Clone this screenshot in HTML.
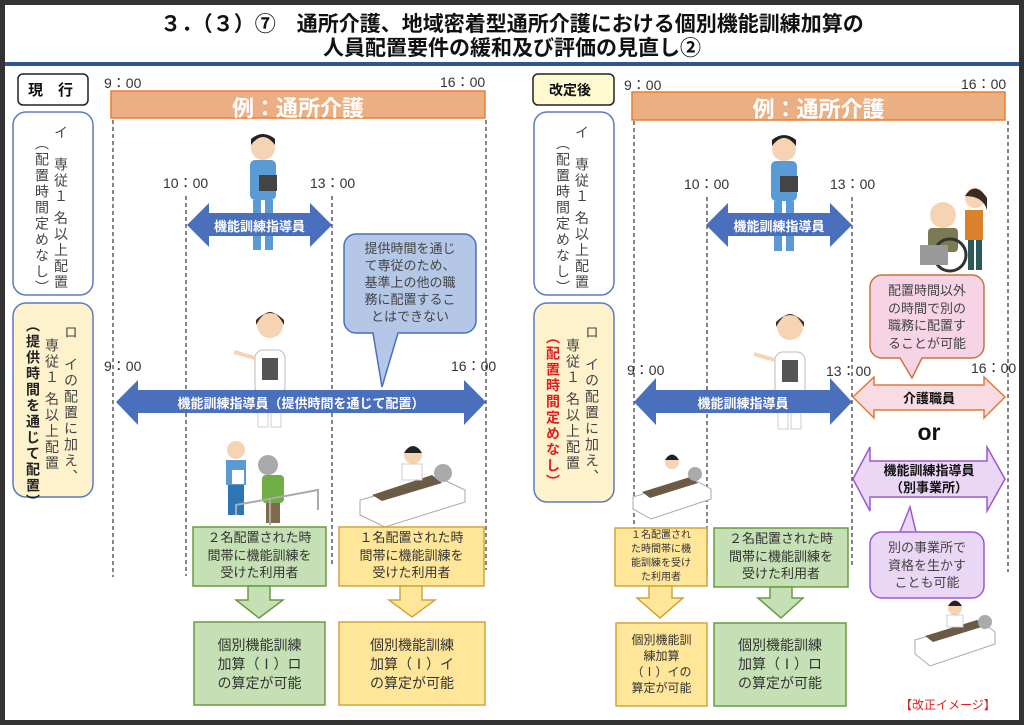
<!DOCTYPE html>
<html><head><meta charset="utf-8">
<style>
*{margin:0;padding:0;box-sizing:border-box}
body{width:1024px;height:725px;overflow:hidden;background:#fff;font-family:"Liberation Sans","Noto Sans CJK JP",sans-serif;position:relative;color:#333}
.a{position:absolute;white-space:nowrap}
.v{position:absolute;writing-mode:vertical-rl;font-size:14px;letter-spacing:2px;line-height:1;color:#444}
.t{font-size:14px;color:#333}
.c{text-align:center}
</style></head><body>
<svg width="1024" height="725" style="position:absolute;left:0;top:0">
<rect x="2.5" y="2.5" width="1019" height="720" fill="none" stroke="#333" stroke-width="5"/>
<rect x="5" y="62" width="1014" height="4" fill="#2f5597"/>
<rect x="18" y="74" width="70" height="31" rx="5" fill="#fff" stroke="#222" stroke-width="1.5"/>
<rect x="533" y="74" width="81" height="31" rx="5" fill="#fff9d0" stroke="#222" stroke-width="1.5"/>
<rect x="111" y="91" width="374" height="27" fill="#eab083" stroke="#ed7d31" stroke-width="1.5"/>
<rect x="632" y="92" width="373" height="28" fill="#eab083" stroke="#ed7d31" stroke-width="1.5"/>
<rect x="13" y="112" width="80" height="183" rx="13" fill="#fff" stroke="#5b7bc0" stroke-width="1.5"/>
<rect x="13" y="303" width="80" height="194" rx="13" fill="#fdf2cc" stroke="#5b7bc0" stroke-width="1.5"/>
<rect x="534" y="112" width="80" height="183" rx="13" fill="#fff" stroke="#5b7bc0" stroke-width="1.5"/>
<rect x="534" y="303" width="80" height="199" rx="13" fill="#fdf2cc" stroke="#5b7bc0" stroke-width="1.5"/>
<g stroke="#333" stroke-width="1.2" stroke-dasharray="4,3">
<line x1="113" y1="120" x2="113" y2="577"/><line x1="186" y1="196" x2="186" y2="576"/>
<line x1="332" y1="196" x2="332" y2="566"/><line x1="486" y1="120" x2="486" y2="570"/>
<line x1="634" y1="121" x2="634" y2="576"/><line x1="707" y1="197" x2="707" y2="578"/>
<line x1="852" y1="197" x2="852" y2="567"/><line x1="1008" y1="121" x2="1008" y2="572"/>
</g>
<g>
<circle cx="263" cy="148" r="12" fill="#f6d3b3"/><path d="M251 145 q12-16 24 0 v-6 q-12-10-24 0z" fill="#222"/>
<rect x="250" y="160" width="26" height="40" rx="5" fill="#5b9bd5"/><rect x="253" y="200" width="8" height="50" fill="#5b9bd5"/><rect x="265" y="200" width="8" height="50" fill="#5b9bd5"/>
<rect x="259" y="175" width="18" height="16" fill="#444"/>
<circle cx="784" cy="149" r="12" fill="#f6d3b3"/><path d="M772 146 q12-16 24 0 v-6 q-12-10-24 0z" fill="#222"/>
<rect x="771" y="161" width="26" height="40" rx="5" fill="#5b9bd5"/><rect x="774" y="201" width="8" height="50" fill="#5b9bd5"/><rect x="786" y="201" width="8" height="50" fill="#5b9bd5"/>
<rect x="780" y="176" width="18" height="16" fill="#444"/>
<circle cx="270" cy="325" r="13" fill="#f6d3b3"/><path d="M256 325 q14-26 28 0 v-5 q-14-14-28 0z" fill="#3a2a22"/>
<rect x="255" y="350" width="30" height="45" rx="8" fill="#fff" stroke="#bbb"/><rect x="262" y="358" width="16" height="22" fill="#555"/>
<rect x="258" y="395" width="10" height="32" fill="#fff" stroke="#ccc"/><rect x="271" y="395" width="10" height="32" fill="#fff" stroke="#ccc"/>
<line x1="255" y1="358" x2="234" y2="352" stroke="#f6d3b3" stroke-width="4"/>
<circle cx="790" cy="327" r="13" fill="#f6d3b3"/><path d="M776 327 q14-26 28 0 v-5 q-14-14-28 0z" fill="#3a2a22"/>
<rect x="775" y="352" width="30" height="45" rx="8" fill="#fff" stroke="#bbb"/><rect x="782" y="360" width="16" height="22" fill="#555"/>
<rect x="778" y="397" width="10" height="32" fill="#fff" stroke="#ccc"/><rect x="791" y="397" width="10" height="32" fill="#fff" stroke="#ccc"/>
<line x1="775" y1="360" x2="754" y2="354" stroke="#f6d3b3" stroke-width="4"/>
<circle cx="236" cy="450" r="9" fill="#f6d3b3"/><rect x="226" y="460" width="20" height="25" fill="#5b9bd5"/><rect x="228" y="485" width="16" height="30" fill="#2e75b6"/>
<rect x="232" y="470" width="12" height="14" fill="#fff"/>
<circle cx="268" cy="465" r="10" fill="#aaa"/><rect x="262" y="475" width="22" height="28" rx="4" fill="#70ad47"/><rect x="266" y="503" width="14" height="20" fill="#7f6a4a"/>
<path d="M236 515 L236 505 L318 490 L318 510 M270 525 L270 500" stroke="#aaa" stroke-width="2" fill="none"/>
<path d="M360 500 l80-22 l25 12 l0 12 l-80 25 l-25-12z" fill="#fff" stroke="#aaa"/>
<path d="M372 495 l60-20 l10 8 l-60 18z" fill="#6b5a45"/><circle cx="443" cy="473" r="9" fill="#aaa"/>
<circle cx="413" cy="455" r="9" fill="#f6d3b3"/><path d="M404 453 q9-14 18 0z" fill="#222"/><rect x="402" y="464" width="20" height="16" fill="#fff" stroke="#ccc"/>
<path d="M633 497 l60-18 l18 10 l0 10 l-60 20 l-18-10z" fill="#fff" stroke="#aaa"/>
<path d="M642 492 l48-15 l8 6 l-48 15z" fill="#6b5a45"/><circle cx="695" cy="474" r="7" fill="#aaa"/>
<circle cx="672" cy="462" r="7" fill="#f6d3b3"/><path d="M665 460 q7-11 14 0z" fill="#222"/>
<path d="M915 640 l65-20 l15 12 l0 12 l-65 22 l-15-12z" fill="#fff" stroke="#aaa"/>
<path d="M925 636 l52-16 l8 6 l-52 16z" fill="#6b5a45"/><circle cx="985" cy="622" r="7" fill="#aaa"/>
<circle cx="955" cy="608" r="7" fill="#f6d3b3"/><path d="M948 606 q7-11 14 0z" fill="#222"/><rect x="947" y="615" width="16" height="12" fill="#fff" stroke="#ccc"/>
<circle cx="943" cy="215" r="13" fill="#f6d3b3"/><rect x="928" y="228" width="30" height="24" rx="4" fill="#7a7a55"/>
<circle cx="950" cy="255" r="16" fill="none" stroke="#333" stroke-width="3"/><rect x="920" y="245" width="28" height="20" fill="#999"/>
<circle cx="975" cy="198" r="10" fill="#f6d3b3"/><path d="M965 196 q10-16 22 2 v12 q-4-14-22-14z" fill="#3a2a22"/>
<rect x="965" y="210" width="18" height="30" fill="#d9822b"/><rect x="968" y="240" width="6" height="30" fill="#2a5a5a"/><rect x="976" y="240" width="6" height="30" fill="#2a5a5a"/>
</g>
<polygon points="187,225 209,203 209,213 310,213 310,203 332,225 310,247 310,236 209,236 209,247" fill="#4a6fbd"/>
<polygon points="706,225 728,203 728,213 830,213 830,203 852,225 830,247 830,236 728,236 728,247" fill="#4a6fbd"/>
<polygon points="116,402 138,380 138,390 464,390 464,380 486,402 464,425 464,413 138,413 138,425" fill="#4a6fbd"/>
<polygon points="634,402 656,378 656,390 830,390 830,378 852,402 830,425 830,413 656,413 656,425" fill="#4a6fbd"/>
<polygon points="853,397 874,377 874,385 984,385 984,377 1005,397 984,418 984,410 874,410 874,418" fill="#f9dbe3" stroke="#e07a3a" stroke-width="1.5"/>
<polygon points="853,479 870,447 870,461 987,461 987,447 1005,479 987,511 987,497 870,497 870,511" fill="#ead6f5" stroke="#9b59d0" stroke-width="1.5"/>
<path d="M356 234 h108 a12 12 0 0 1 12 12 v75 a12 12 0 0 1 -12 12 h-66 l-16 54 l-9-54 h-17 a12 12 0 0 1 -12-12 v-75 a12 12 0 0 1 12-12z" fill="#b4c7e7" stroke="#4a6fbd" stroke-width="1.5"/>
<path d="M882 275 h90 a12 12 0 0 1 12 12 v59 a12 12 0 0 1 -12 12 h-50 l-10 20 l-12-20 h-18 a12 12 0 0 1 -12-12 v-59 a12 12 0 0 1 12-12z" fill="#f6d4e6" stroke="#c8743f" stroke-width="1.5"/>
<path d="M882 532 h90 a12 12 0 0 1 12 12 v42 a12 12 0 0 1 -12 12 h-90 a12 12 0 0 1 -12-12 v-42 a12 12 0 0 1 12-12 h18 l10-25 l6 25z" fill="#ead6f5" stroke="#9b59d0" stroke-width="1.5"/>
<rect x="193" y="527" width="133" height="59" fill="#c5e0b4" stroke="#6a9a45" stroke-width="1.5"/>
<polygon points="248,586 270,586 270,600 283,600 259,618 236,600 248,600" fill="#c5e0b4" stroke="#6a9a45" stroke-width="1.5"/>
<rect x="194" y="622" width="131" height="83" fill="#c5e0b4" stroke="#6a9a45" stroke-width="1.5"/>
<rect x="339" y="527" width="145" height="59" fill="#ffe699" stroke="#d0a53a" stroke-width="1.5"/>
<polygon points="400,586 422,586 422,600 435,600 412,617 389,600 400,600" fill="#ffe699" stroke="#d0a53a" stroke-width="1.5"/>
<rect x="339" y="622" width="146" height="83" fill="#ffe699" stroke="#d0a53a" stroke-width="1.5"/>
<rect x="615" y="528" width="92" height="58" fill="#ffe699" stroke="#d0a53a" stroke-width="1.5"/>
<polygon points="649,586 672,586 672,598 683,598 660,618 637,598 649,598" fill="#ffe699" stroke="#d0a53a" stroke-width="1.5"/>
<rect x="616" y="623" width="91" height="83" fill="#ffe699" stroke="#d0a53a" stroke-width="1.5"/>
<rect x="714" y="528" width="134" height="59" fill="#c5e0b4" stroke="#6a9a45" stroke-width="1.5"/>
<polygon points="770,587 792,587 792,598 803,598 781,618 758,598 770,598" fill="#c5e0b4" stroke="#6a9a45" stroke-width="1.5"/>
<rect x="714" y="623" width="132" height="83" fill="#c5e0b4" stroke="#6a9a45" stroke-width="1.5"/>
</svg>

<div class="a c" style="left:0;width:1024px;top:13px;font-size:21px;font-weight:bold;line-height:24px;color:#111">３．（３）⑦　通所介護、地域密着型通所介護における個別機能訓練加算の<br>人員配置要件の緩和及び評価の見直し②</div>

<div class="a" style="left:28px;top:79px;font-size:15px;font-weight:bold;color:#111">現　行</div>
<div class="a" style="left:549px;top:80px;font-size:14px;font-weight:bold;color:#111">改定後</div>

<div class="a t" style="left:104px;top:73px">9：00</div>
<div class="a t" style="left:440px;top:72px">16：00</div>
<div class="a t" style="left:624px;top:75px">9：00</div>
<div class="a t" style="left:961px;top:74px">16：00</div>
<div class="a c" style="left:111px;width:374px;top:91px;font-size:22px;font-weight:bold;color:#fff">例：通所介護</div>
<div class="a c" style="left:632px;width:373px;top:92px;font-size:22px;font-weight:bold;color:#fff">例：通所介護</div>

<div class="a t" style="left:163px;top:173px">10：00</div>
<div class="a t" style="left:310px;top:173px">13：00</div>
<div class="a t" style="left:684px;top:174px">10：00</div>
<div class="a t" style="left:830px;top:174px">13：00</div>
<div class="a t" style="left:104px;top:356px">9：00</div>
<div class="a t" style="left:451px;top:356px">16：00</div>
<div class="a t" style="left:627px;top:360px">9：00</div>
<div class="a t" style="left:826px;top:361px">13：00</div>
<div class="a t" style="left:971px;top:358px">16：00</div>

<div class="v" style="left:54px;top:125px">イ　専従１ 名以上配置</div>
<div class="v" style="left:35px;top:136px">（配置時間定めなし）</div>
<div class="v" style="left:64px;top:325px">ロ　イの配置に加え、</div>
<div class="v" style="left:45px;top:338px">専従１ 名以上配置</div>
<div class="v" style="left:26px;top:318px;font-weight:bold;color:#222">（提供時間を通じて配置）</div>
<div class="v" style="left:575px;top:125px">イ　専従１ 名以上配置</div>
<div class="v" style="left:556px;top:136px">（配置時間定めなし）</div>
<div class="v" style="left:585px;top:325px">ロ　イの配置に加え、</div>
<div class="v" style="left:566px;top:338px">専従１ 名以上配置</div>
<div class="v" style="left:546px;top:330px;font-weight:bold;color:#e02020">（配置時間定めなし）</div>

<div class="a c" style="left:187px;width:145px;top:216px;font-size:13px;font-weight:bold;color:#fff">機能訓練指導員</div>
<div class="a c" style="left:706px;width:146px;top:216px;font-size:13px;font-weight:bold;color:#fff">機能訓練指導員</div>
<div class="a c" style="left:116px;width:370px;top:393px;font-size:13px;font-weight:bold;color:#fff">機能訓練指導員（提供時間を通じて配置）</div>
<div class="a c" style="left:634px;width:218px;top:393px;font-size:13px;font-weight:bold;color:#fff">機能訓練指導員</div>
<div class="a c" style="left:853px;width:152px;top:388px;font-size:13px;font-weight:bold;color:#111">介護職員</div>
<div class="a c" style="left:853px;width:152px;top:419px;font-size:23px;font-weight:bold;color:#111">or</div>
<div class="a c" style="left:853px;width:152px;top:462px;font-size:13px;font-weight:bold;color:#111;line-height:17px">機能訓練指導員<br>（別事業所）</div>

<div class="a c" style="left:344px;width:132px;top:240px;font-size:13px;line-height:17px;color:#444">提供時間を通じ<br>て専従のため、<br>基準上の他の職<br>務に配置するこ<br>とはできない</div>
<div class="a c" style="left:870px;width:114px;top:282px;font-size:13px;line-height:17.5px;color:#444">配置時間以外<br>の時間で別の<br>職務に配置す<br>ることが可能</div>
<div class="a c" style="left:870px;width:114px;top:539px;font-size:13px;line-height:17.5px;color:#444">別の事業所で<br>資格を生かす<br>ことも可能</div>

<div class="a c" style="left:193px;width:133px;top:529px;font-size:13px;line-height:17.5px">２名配置された時<br>間帯に機能訓練を<br>受けた利用者</div>
<div class="a c" style="left:194px;width:131px;top:636px;font-size:14px;line-height:19px">個別機能訓練<br>加算（Ⅰ）ロ<br>の算定が可能</div>
<div class="a c" style="left:339px;width:145px;top:529px;font-size:13px;line-height:17.5px">１名配置された時<br>間帯に機能訓練を<br>受けた利用者</div>
<div class="a c" style="left:339px;width:146px;top:636px;font-size:14px;line-height:19px">個別機能訓練<br>加算（Ⅰ）イ<br>の算定が可能</div>
<div class="a c" style="left:615px;width:92px;top:529px;font-size:10px;line-height:14px">１名配置され<br>た時間帯に機<br>能訓練を受け<br>た利用者</div>
<div class="a c" style="left:616px;width:91px;top:632px;font-size:12px;line-height:16px">個別機能訓<br>練加算<br>（Ⅰ）イの<br>算定が可能</div>
<div class="a c" style="left:714px;width:134px;top:530px;font-size:13px;line-height:17.5px">２名配置された時<br>間帯に機能訓練を<br>受けた利用者</div>
<div class="a c" style="left:714px;width:132px;top:636px;font-size:14px;line-height:19px">個別機能訓練<br>加算（Ⅰ）ロ<br>の算定が可能</div>

<div class="a" style="left:900px;top:696px;font-size:12px;color:#e02020">【改正イメージ】</div>
</body></html>
